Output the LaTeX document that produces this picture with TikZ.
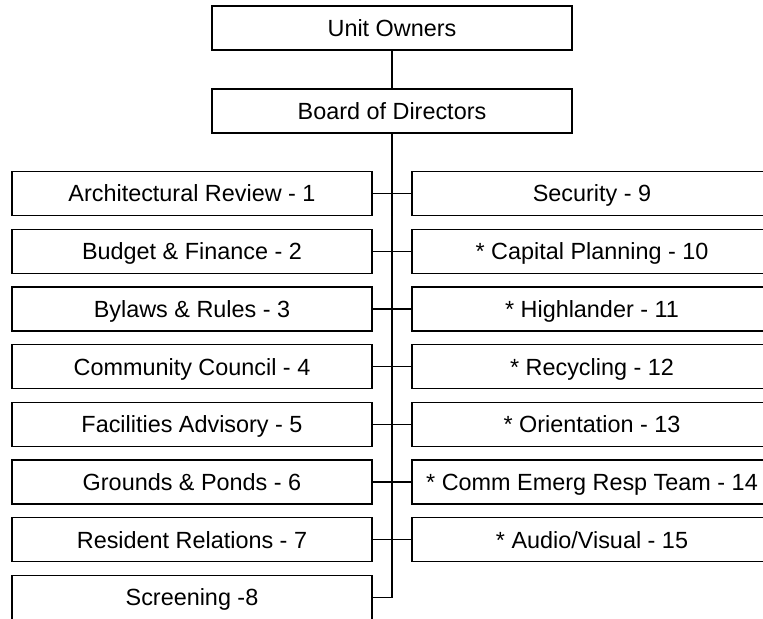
\documentclass[tikz,border=0pt]{standalone}
\usepackage{fontspec}
\setmainfont{Liberation Sans}
\tikzset{
  unitbox/.style={draw, line width=0.6pt, minimum width=180pt, minimum height=22pt,
    inner sep=0pt, text height=8.4pt, text depth=0pt, font=\fontsize{11.7}{14}\selectfont},
  link/.style={line width=0.6pt}
}

\begin{document}
\begin{tikzpicture}[x=0.5pt,y=-0.5pt]
    \useasboundingbox (0,0) rectangle (763,618);
    \node[unitbox] (owners) at (392,28) {Unit Owners};
    \node[unitbox] (board) at (392,111) {Board of Directors};
    % left column of committees
    \node[unitbox] (left1) at (192,193.5) {Architectural Review - 1};
    \node[unitbox] (left2) at (192,251.2) {Budget \& Finance - 2};
    \node[unitbox] (left3) at (192,308.9) {Bylaws \& Rules - 3};
    \node[unitbox] (left4) at (192,366.6) {Community Council - 4};
    \node[unitbox] (left5) at (192,424.3) {Facilities Advisory - 5};
    \node[unitbox] (left6) at (192,482) {Grounds \& Ponds - 6};
    \node[unitbox] (left7) at (192,539.7) {Resident Relations - 7};
    \node[unitbox] (left8) at (192,597.4) {Screening -8};
    % right column of committees
    \node[unitbox] (right1) at (592,193.5) {Security - 9};
    \node[unitbox] (right2) at (592,251.2) {* Capital Planning - 10};
    \node[unitbox] (right3) at (592,308.9) {* Highlander - 11};
    \node[unitbox] (right4) at (592,366.6) {* Recycling - 12};
    \node[unitbox] (right5) at (592,424.3) {* Orientation - 13};
    \node[unitbox] (right6) at (592,482) {* Comm Emerg Resp Team - 14};
    \node[unitbox] (right7) at (592,539.7) {* Audio/Visual - 15};
    % connectors
    \draw[link] (owners) -- (board);
    \draw[link] (board) |- (left8);
    \draw[link] (left1) -- (right1);
    \draw[link] (left2) -- (right2);
    \draw[link] (left3) -- (right3);
    \draw[link] (left4) -- (right4);
    \draw[link] (left5) -- (right5);
    \draw[link] (left6) -- (right6);
    \draw[link] (left7) -- (right7);
\end{tikzpicture}
\end{document}
